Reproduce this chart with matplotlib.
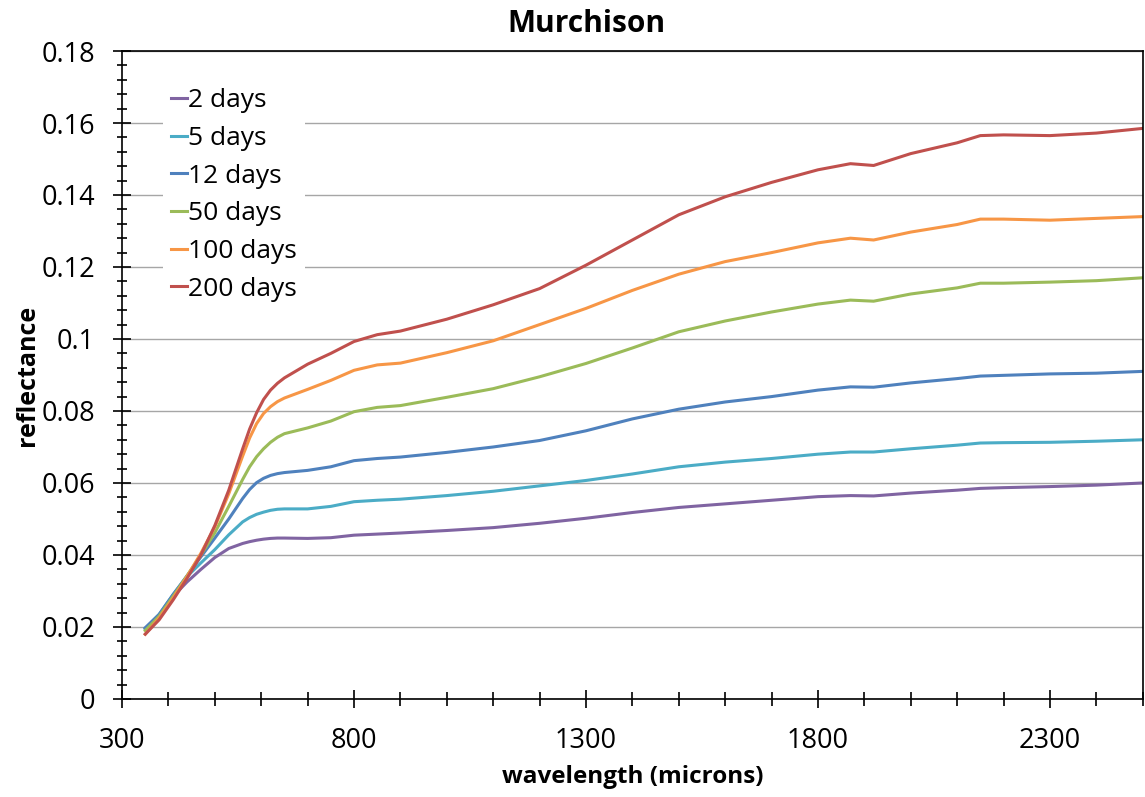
import matplotlib
matplotlib.use('Agg')
import matplotlib.pyplot as plt
from matplotlib.ticker import MultipleLocator

plt.rcParams['font.family'] = ['Open Sans', 'DejaVu Sans']

# wavelength samples
wavelength = [350, 380, 410, 440, 470, 500, 530, 560, 575, 590, 605, 620, 635, 650, 700,
              750, 800, 850, 900, 1000, 1100, 1200, 1300, 1400, 1500, 1600, 1700, 1800,
              1870, 1920, 2000, 2100, 2150, 2200, 2300, 2400, 2500]

days_2 = [0.0195, 0.0230, 0.0285, 0.0325, 0.0360, 0.0393, 0.0418, 0.0432, 0.0437, 0.0441,
          0.0444, 0.0446, 0.0447, 0.0447, 0.0446, 0.0448, 0.0455, 0.0458, 0.0461, 0.0468,
          0.0476, 0.0488, 0.0502, 0.0518, 0.0532, 0.0542, 0.0552, 0.0562, 0.0565, 0.0564,
          0.0572, 0.0580, 0.0585, 0.0587, 0.0590, 0.0594, 0.0600]
days_5 = [0.0195, 0.0235, 0.0290, 0.0340, 0.0378, 0.0415, 0.0456, 0.0492, 0.0504, 0.0513,
          0.0519, 0.0524, 0.0527, 0.0528, 0.0528, 0.0535, 0.0548, 0.0552, 0.0555, 0.0565,
          0.0577, 0.0592, 0.0607, 0.0625, 0.0645, 0.0658, 0.0668, 0.0680, 0.0686, 0.0686,
          0.0695, 0.0705, 0.0711, 0.0712, 0.0713, 0.0716, 0.0720]
days_12 = [0.0198, 0.0235, 0.0290, 0.0342, 0.0395, 0.0447, 0.0500, 0.0557, 0.0582, 0.0601,
           0.0613, 0.0621, 0.0626, 0.0629, 0.0635, 0.0645, 0.0662, 0.0668, 0.0672, 0.0685,
           0.0700, 0.0718, 0.0745, 0.0778, 0.0805, 0.0825, 0.0840, 0.0858, 0.0867, 0.0866,
           0.0878, 0.0890, 0.0897, 0.0899, 0.0903, 0.0905, 0.0910]
days_50 = [0.0190, 0.0230, 0.0285, 0.0342, 0.0400, 0.0462, 0.0535, 0.0610, 0.0645, 0.0673,
           0.0695, 0.0713, 0.0727, 0.0737, 0.0753, 0.0772, 0.0798, 0.0810, 0.0815, 0.0838,
           0.0862, 0.0895, 0.0932, 0.0975, 0.1020, 0.1050, 0.1075, 0.1097, 0.1108, 0.1105,
           0.1125, 0.1142, 0.1155, 0.1155, 0.1158, 0.1162, 0.1170]
days_100 = [0.0180, 0.0225, 0.0280, 0.0340, 0.0405, 0.0478, 0.0570, 0.0675, 0.0725, 0.0765,
            0.0793, 0.0812, 0.0826, 0.0836, 0.0860, 0.0885, 0.0913, 0.0928, 0.0933, 0.0962,
            0.0995, 0.1040, 0.1085, 0.1135, 0.1180, 0.1215, 0.1240, 0.1267, 0.1280, 0.1275,
            0.1297, 0.1318, 0.1333, 0.1333, 0.1330, 0.1335, 0.1340]
days_200 = [0.0180, 0.0220, 0.0275, 0.0335, 0.0400, 0.0482, 0.0580, 0.0695, 0.0750, 0.0795,
            0.0832, 0.0858, 0.0877, 0.0892, 0.0930, 0.0960, 0.0993, 0.1012, 0.1022, 0.1055,
            0.1095, 0.1140, 0.1205, 0.1275, 0.1345, 0.1395, 0.1435, 0.1470, 0.1487, 0.1482,
            0.1515, 0.1545, 0.1565, 0.1567, 0.1565, 0.1572, 0.1585]

labels = ['2 days', '5 days', '12 days', '50 days', '100 days', '200 days']
series = [days_2, days_5, days_12, days_50, days_100, days_200]
colors = ['#8064A2', '#4BACC6', '#4F81BD', '#9BBB59', '#F79646', '#C0504D']

fig = plt.figure(figsize=(11.45, 7.97), dpi=100)
ax = fig.add_axes([0.1066, 0.123, 0.8914, 0.813])

for vals, lab, col in zip(series, labels, colors):
    ax.plot(wavelength, vals, color=col, lw=2.2, label=lab, solid_joinstyle='round')

ax.set_xlim(300, 2500)
ax.set_ylim(0, 0.18)
ax.xaxis.set_major_locator(MultipleLocator(500, offset=300))
ax.xaxis.set_minor_locator(MultipleLocator(100))
ax.yaxis.set_minor_locator(MultipleLocator(0.004))
ax.set_yticks([0, 0.02, 0.04, 0.06, 0.08, 0.1, 0.12, 0.14, 0.16, 0.18])
ax.set_yticklabels(['0', '0.02', '0.04', '0.06', '0.08', '0.1', '0.12', '0.14', '0.16', '0.18'])

ax.tick_params(axis='both', which='major', direction='inout', length=13, width=1.2,
               labelsize=19.5, color='black')
ax.tick_params(axis='x', which='minor', direction='inout', length=10, width=1.2)
ax.tick_params(axis='y', which='minor', direction='inout', length=7, width=1.2)
ax.tick_params(axis='x', which='major', pad=14)
ax.tick_params(axis='y', which='major', pad=13)

ax.grid(axis='y', which='major', color='#A6A6A6', lw=1.0)
ax.set_axisbelow(True)
for s in ax.spines.values():
    s.set_color('black')
    s.set_linewidth(1.2)

ax.set_xlabel('wavelength (microns)', fontsize=17.5, fontweight='bold', labelpad=7)
ax.set_ylabel('reflectance', fontsize=18, fontweight='bold', labelpad=1)
fig.text(0.512, 0.97, 'Murchison', ha='center', va='center', fontsize=21.5, fontweight='bold')

leg = ax.legend(loc='upper left', bbox_to_anchor=(0.027, 0.975), fontsize=19, frameon=True,
                handlelength=0.6, handletextpad=0.05, labelspacing=0.48, borderpad=0.3)
leg.get_frame().set_facecolor('white')
leg.get_frame().set_edgecolor('none')
leg.get_frame().set_alpha(1)

fig.savefig('out.png', dpi=100)
